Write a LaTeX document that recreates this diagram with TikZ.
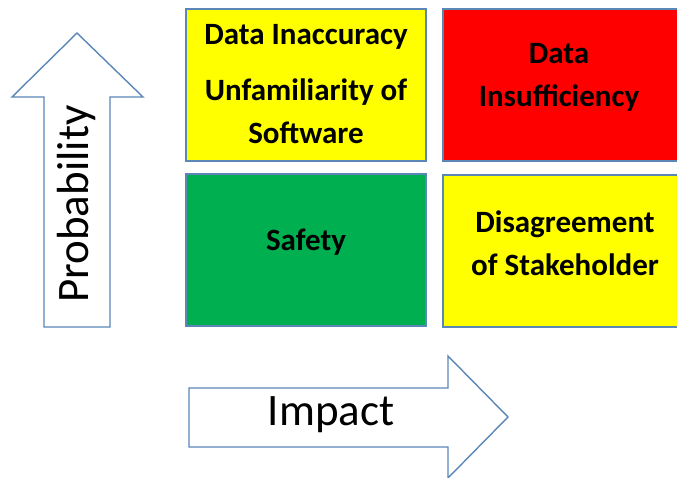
\documentclass[tikz,border=0pt]{standalone}
\usepackage{fontspec}
\setmainfont{Carlito}
\usepackage{tikz}

\definecolor{edgeblue}{HTML}{5B86B8}
\definecolor{riskyellow}{HTML}{FFFF00}
\definecolor{riskred}{HTML}{FF0000}
\definecolor{riskgreen}{HTML}{00B050}

\tikzset{
	cell/.style={draw=edgeblue, line width=1.2pt, inner sep=0pt},
	cellfont/.style={font=\fontsize{31}{43}\selectfont\bfseries, align=center},
	bigarrow/.style={draw=edgeblue, line width=1.4pt, fill=white, line join=miter}
}

\begin{document}
\begin{tikzpicture}[x=1pt,y=-1pt]
		\useasboundingbox (0,0) rectangle (677,478);
		% risk cells
		\draw[cell, fill=riskyellow] (186,9) rectangle (426,161);
		\draw[cell, fill=riskred] (443,9) rectangle (680,161);
		\draw[cell, fill=riskgreen] (186,174) rectangle (426,326);
		\draw[cell, fill=riskyellow] (443,175) rectangle (680,327);
		\node[cellfont] (inacc) at (306,37) {Data Inaccuracy};
		\node[cellfont] (unfam) at (306,111) {Unfamiliarity of\\Software};
		\node[cellfont] (insuf) at (559,77) {Data\\Insufficiency};
		\node[cellfont] (safety) at (306,242) {Safety};
		\node[cellfont] (disag) at (565,243) {Disagreement\\of Stakeholder};
		% probability arrow
		\draw[bigarrow] (44,327) -- (44,97) -- (12,97) -- (77,33) -- (143,97) -- (110,97) -- (110,327) -- cycle;
		\node[rotate=90, font=\fontsize{45}{45}\selectfont] (prob) at (77,204) {Probability};
		% impact arrow
		\draw[bigarrow] (189,388) -- (448,388) -- (448,356) -- (508,417) -- (448,478) -- (448,447) -- (189,447) -- cycle;
		\node[font=\fontsize{45}{45}\selectfont] (impact) at (331,415) {Impact};
\end{tikzpicture}
\end{document}
